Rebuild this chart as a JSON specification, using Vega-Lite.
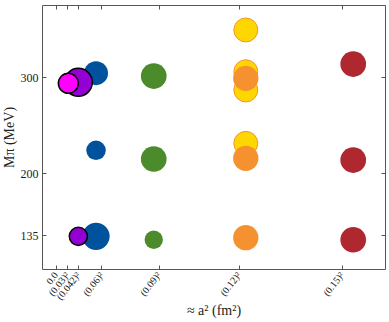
{
  "$schema": "https://vega.github.io/schema/vega-lite/v6.json",
  "width": 343,
  "height": 264,
  "autosize": {"type": "none"},
  "padding": {"left": 42, "top": 5, "right": 4, "bottom": 53},
  "background": "white",
  "config": {
    "view": {"stroke": "#555555", "strokeWidth": 1},
    "axis": {
      "domain": false,
      "grid": false,
      "tickSize": -4,
      "tickColor": "#555555",
      "labelFont": "Liberation Serif",
      "titleFont": "Liberation Serif",
      "labelColor": "#222222",
      "titleColor": "#222222",
      "titleFontWeight": "normal"
    }
  },
  "data": {
    "values": [
      {"group": "blue", "a2": 0.00317, "mpi": 304, "area": 573},
      {"group": "blue", "a2": 0.00317, "mpi": 223.6, "area": 380},
      {"group": "blue", "a2": 0.00317, "mpi": 134, "area": 740},
      {"group": "green", "a2": 0.00771, "mpi": 301, "area": 660},
      {"group": "green", "a2": 0.00771, "mpi": 214.6, "area": 660},
      {"group": "green", "a2": 0.00771, "mpi": 130.5, "area": 336},
      {"group": "red", "a2": 0.0234, "mpi": 313.5, "area": 660},
      {"group": "red", "a2": 0.0234, "mpi": 213.5, "area": 660},
      {"group": "red", "a2": 0.0234, "mpi": 130.5, "area": 660},
      {"group": "yellow", "a2": 0.01495, "mpi": 349, "area": 573},
      {"group": "yellow", "a2": 0.01495, "mpi": 305.5, "area": 573},
      {"group": "yellow", "a2": 0.01495, "mpi": 286.5, "area": 573},
      {"group": "yellow", "a2": 0.01495, "mpi": 230.9, "area": 573},
      {"group": "orange", "a2": 0.01495, "mpi": 298.6, "area": 640},
      {"group": "orange", "a2": 0.01495, "mpi": 215.3, "area": 640},
      {"group": "orange", "a2": 0.01495, "mpi": 132.6, "area": 640},
      {"group": "purple", "a2": 0.00178, "mpi": 294.5, "area": 779},
      {"group": "purple", "a2": 0.00178, "mpi": 134, "area": 330},
      {"group": "magenta", "a2": 0.00099, "mpi": 293.4, "area": 398}
    ]
  },
  "layer": [
    {
      "mark": {"type": "point", "shape": "circle", "filled": true, "opacity": 1},
      "encoding": {
        "x": {
          "field": "a2", "type": "quantitative",
          "scale": {"domain": [-0.00108, 0.0259], "nice": false, "zero": false},
          "axis": {
            "orient": "bottom",
            "values": [0, 0.0009, 0.001764, 0.0036, 0.0081, 0.0144, 0.0225],
            "labelExpr": "datum.value == 0 ? '0.0' : '(' + format(sqrt(datum.value), '.3~f') + ')²'",
            "labelAngle": -52,
            "labelAlign": "right",
            "labelBaseline": "middle",
            "labelFontSize": 10,
            "labelPadding": 8,
            "labelOverlap": false,
            "labelFlush": false,
            "title": "≈ a² (fm²)",
            "titleFontSize": 14,
            "titlePadding": 2
          }
        },
        "y": {
          "field": "mpi", "type": "quantitative",
          "scale": {"domain": [100, 375], "nice": false, "zero": false},
          "axis": {
            "orient": "left",
            "values": [135, 200, 300],
            "labelFontSize": 12,
            "labelPadding": 8,
            "title": "Mπ (MeV)",
            "titleFontSize": 14,
            "titlePadding": 4
          }
        },
        "size": {"field": "area", "type": "quantitative", "scale": {"type": "linear", "domain": [0, 1000], "range": [0, 1000]}, "legend": null},
        "fill": {
          "field": "group", "type": "nominal", "legend": null,
          "scale": {
            "type": "ordinal",
            "domain": ["blue", "green", "red", "yellow", "orange", "purple", "magenta"],
            "range": ["#00529c", "#4b8b2b", "#b0282f", "#ffd700", "#f5922f", "#9400d3", "#ff00ff"]
          }
        },
        "stroke": {
          "field": "group", "type": "nominal", "legend": null,
          "scale": {
            "type": "ordinal",
            "domain": ["blue", "green", "red", "yellow", "orange", "purple", "magenta"],
            "range": ["#00529c", "#4b8b2b", "#b0282f", "#f5922f", "#f5922f", "#000000", "#000000"]
          }
        },
        "strokeWidth": {
          "field": "group", "type": "nominal", "legend": null,
          "scale": {
            "type": "ordinal",
            "domain": ["blue", "green", "red", "yellow", "orange", "purple", "magenta"],
            "range": [0, 0, 0, 1, 0, 1.5, 1.5]
          }
        }
      }
    },
    {
      "mark": {"type": "point", "opacity": 0},
      "encoding": {
        "x": {
          "field": "a2", "type": "quantitative",
          "axis": {"orient": "top", "values": [0, 0.0009, 0.001764, 0.0036, 0.0081, 0.0144, 0.0225], "labels": false, "title": null}
        },
        "y": {
          "field": "mpi", "type": "quantitative",
          "axis": {"orient": "right", "values": [135, 200, 300], "labels": false, "title": null}
        }
      }
    }
  ]
}
